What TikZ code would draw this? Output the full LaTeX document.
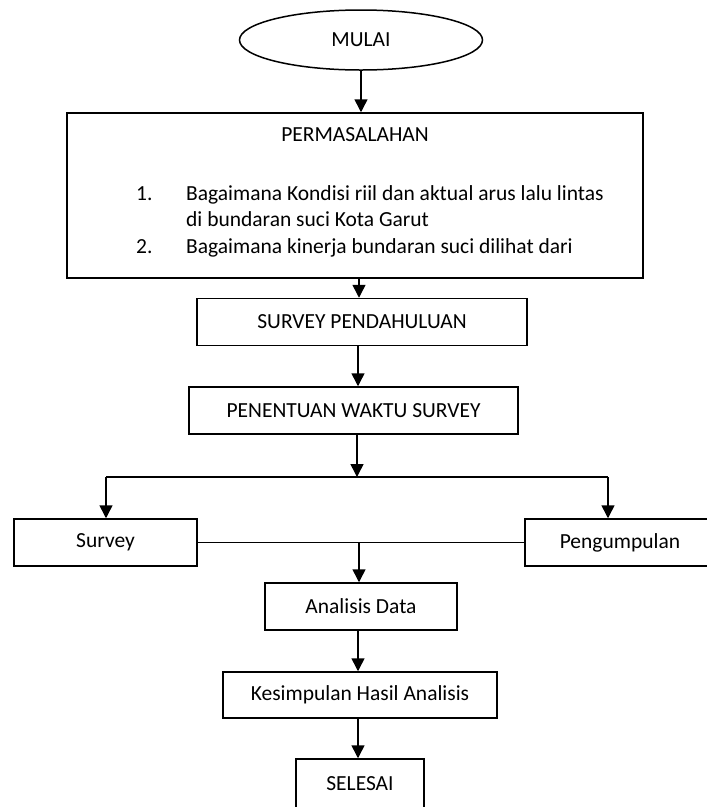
\documentclass[tikz,border=0pt]{standalone}
\usepackage{fontspec}
\setmainfont{Carlito}
\usetikzlibrary{arrows.meta,shapes.geometric}
\begin{document}
\begin{tikzpicture}[x=1pt,y=-1pt,
  every node/.style={font=\fontsize{21.5}{26}\selectfont},
  boxnode/.style={draw,line width=1.5pt,rectangle,minimum width=#1,minimum height=47pt,inner sep=0pt},
  txt/.style={inner sep=0pt,anchor=base west},
  conn/.style={line width=1.5pt},
  arr/.style={line width=1.5pt,-{Triangle[width=13pt,length=13pt]}}]
\fill[white] (0,0) rectangle (707,807);
\useasboundingbox (0,0) rectangle (707,807);

% nodes
\node[draw,ellipse,line width=1.5pt,minimum width=243pt,minimum height=60pt,inner sep=0pt] (mulai) at (361,40) {MULAI};
\node[draw,rectangle,line width=1.5pt,minimum width=576pt,minimum height=165pt,inner sep=0pt] (perm) at (355,195.5) {};
\node[inner sep=0pt] (permtitle) at (355,135) {PERMASALAHAN};
\node[txt] (n1) at (136,200) {1.};
\node[txt] (t1a) at (186,200) {Bagaimana Kondisi riil dan aktual arus lalu lintas};
\node[txt] (t1b) at (186,226) {di bundaran suci Kota Garut};
\node[txt] (n2) at (136,253) {2.};
\node[txt] (t2a) at (186,253) {Bagaimana kinerja bundaran suci dilihat dari};

\node[boxnode=330pt] (sp) at (362,322) {SURVEY PENDAHULUAN};
\node[boxnode=329pt] (pw) at (353.5,410.5) {PENENTUAN WAKTU SURVEY};
\node[boxnode=183pt] (survey) at (105.5,542.5) {Survey};
\node[boxnode=190pt] (peng) at (620,542.5) {Pengumpulan};
\node[boxnode=192pt] (analisis) at (361,606.5) {Analisis Data};
\node[boxnode=274pt,minimum height=46pt] (kes) at (360,695) {Kesimpulan Hasil Analisis};
\node[boxnode=128pt,minimum height=50pt] (selesai) at (360,784) {SELESAI};

% helper coordinates
\coordinate (ax1) at (361,0);
\coordinate (ax2) at (359,0);
\coordinate (ax3) at (358,0);
\coordinate (split) at (357,477);
\coordinate (merge) at (359,542);
\coordinate (lft) at (106,477);
\coordinate (rgt) at (608,477);

% connectors
\draw[arr] (mulai.south -| ax1) -- (perm.north -| ax1);
\draw[arr] (perm.south -| ax2) -- (sp.north -| ax2);
\draw[arr] (sp.south -| ax3) -- (pw.north -| ax3);
\draw[arr] (pw.south -| split) -- (split);
\draw[conn] (lft) -- (rgt);
\draw[arr] (lft) -- (lft |- survey.north);
\draw[arr] (rgt) -- (rgt |- peng.north);
\draw[conn] (survey.east) -- (peng.west);
\draw[arr] (merge) -- (merge |- analisis.north);
\draw[arr] (analisis.south -| ax3) -- (kes.north -| ax3);
\draw[arr] (kes.south -| ax3) -- (selesai.north -| ax3);
\end{tikzpicture}
\end{document}
